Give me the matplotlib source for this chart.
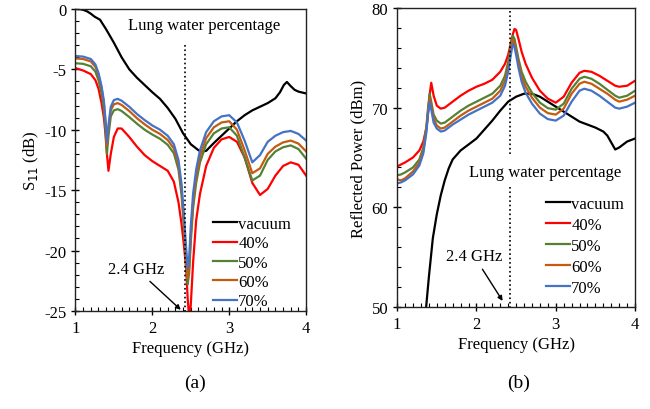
import numpy as np
import matplotlib
matplotlib.use('Agg')
import matplotlib.pyplot as plt
from matplotlib.ticker import MultipleLocator

plt.rcParams['font.family'] = ['Liberation Serif', 'DejaVu Serif']
plt.rcParams['font.size'] = 12
plt.rcParams['axes.unicode_minus'] = False

# --------------------------------------------------
# data
# --------------------------------------------------
labels = ['vacuum', '40%', '50%', '60%', '70%']
colors = ['#000000', '#ff0000', '#548235', '#c55a11', '#4472c4']

# (a) S11, vacuum
f_vac_a = [1.0, 1.05, 1.1, 1.15, 1.2, 1.25, 1.32, 1.4, 1.5, 1.6, 1.7, 1.8, 1.9, 2.0, 2.1, 2.2,
           2.3, 2.4, 2.5, 2.6, 2.65, 2.7, 2.8, 2.9, 3.0, 3.1, 3.2, 3.3, 3.4, 3.5, 3.6, 3.66,
           3.71, 3.75, 3.8, 3.85, 3.9, 4.0]
s11_vac = [0.0, -0.02, -0.08, -0.2, -0.4, -0.65, -0.9, -1.7, -2.8, -4.0, -5.0, -5.7, -6.3, -6.9,
           -7.45, -8.2, -9.1, -10.3, -11.2, -11.7, -11.8, -11.75, -11.1, -10.5, -9.9, -9.3, -8.8,
           -8.4, -8.1, -7.8, -7.4, -6.9, -6.3, -6.05, -6.4, -6.7, -6.85, -7.0]

# (a) S11, lung water
f_a = [1.0, 1.1, 1.2, 1.26, 1.3, 1.34, 1.37, 1.39, 1.41, 1.43, 1.46, 1.5, 1.55, 1.6, 1.7, 1.8,
       1.9, 2.0, 2.1, 2.2, 2.28, 2.34, 2.38, 2.41, 2.44, 2.46, 2.48, 2.5, 2.53, 2.57, 2.62, 2.7,
       2.8, 2.9, 3.0, 3.1, 3.2, 3.3, 3.4, 3.5, 3.6, 3.7, 3.8, 3.9, 4.0]
s11_40 = [-4.9, -5.1, -5.4, -5.9, -6.6, -7.8, -9.0, -10.3, -12.0, -13.4, -12.0, -10.6, -9.9, -9.9,
          -10.6, -11.4, -12.1, -12.6, -13.0, -13.4, -14.3, -16.0, -17.8, -19.5, -21.5, -24.0,
          -25.6, -24.5, -21.0, -17.5, -15.3, -13.0, -11.5, -10.8, -10.6, -11.0, -12.3, -14.4,
          -15.4, -14.9, -13.8, -13.0, -12.7, -12.9, -13.8]
s11_50 = [-4.5, -4.55, -4.75, -5.2, -5.9, -7.0, -8.3, -9.8, -12.0, -10.5, -8.9, -8.4, -8.3, -8.45,
          -8.95, -9.5, -10.0, -10.4, -10.75, -11.25, -11.95, -13.3, -15.4, -18.0, -21.0, -22.8,
          -21.8, -19.3, -16.5, -14.4, -12.7, -11.2, -10.3, -9.9, -9.8, -10.5, -12.3, -14.2,
          -13.8, -12.5, -11.8, -11.45, -11.3, -11.6, -12.4]
s11_60 = [-4.1, -4.15, -4.35, -4.8, -5.5, -6.6, -7.8, -9.3, -11.3, -9.9, -8.4, -7.9, -7.8, -7.95,
          -8.45, -9.05, -9.55, -10.0, -10.35, -10.85, -11.55, -12.9, -15.0, -17.6, -20.5, -22.3,
          -21.3, -18.8, -16.0, -13.9, -12.2, -10.7, -9.8, -9.4, -9.3, -10.0, -11.7, -13.6,
          -13.2, -12.0, -11.4, -11.05, -10.9, -11.15, -11.8]
s11_70 = [-3.9, -3.95, -4.15, -4.6, -5.3, -6.4, -7.6, -9.1, -11.0, -9.6, -8.1, -7.55, -7.45, -7.6,
          -8.1, -8.7, -9.2, -9.65, -10.0, -10.5, -11.2, -12.5, -14.5, -17.0, -19.8, -21.5,
          -20.5, -18.0, -15.3, -13.3, -11.7, -10.2, -9.3, -8.9, -8.8, -9.4, -10.9, -12.7,
          -12.1, -11.0, -10.5, -10.2, -10.1, -10.35, -10.9]

# (b) reflected power, vacuum
f_vac_b = [1.36, 1.4, 1.45, 1.5, 1.55, 1.6, 1.65, 1.7, 1.8, 1.9, 2.0, 2.1, 2.2, 2.3, 2.4, 2.5,
           2.6, 2.7, 2.8, 2.9, 3.0, 3.1, 3.2, 3.3, 3.4, 3.5, 3.6, 3.65, 3.7, 3.75, 3.8, 3.9, 4.0]
p_vac = [49.5, 53.0, 56.9, 59.3, 61.2, 62.7, 63.9, 64.8, 65.7, 66.3, 66.9, 67.8, 68.7, 69.7,
         70.6, 71.1, 71.4, 71.4, 71.1, 70.6, 70.1, 69.6, 69.1, 68.6, 68.3, 68.0, 67.6, 67.2,
         66.5, 65.8, 66.0, 66.6, 66.9]

# (b) reflected power, lung water
f_b = [1.0, 1.05, 1.1, 1.2, 1.28, 1.33, 1.37, 1.39, 1.41, 1.43, 1.46, 1.5, 1.55, 1.6, 1.7, 1.8,
       1.9, 2.0, 2.1, 2.2, 2.3, 2.36, 2.4, 2.44, 2.46, 2.48, 2.5, 2.53, 2.57, 2.62, 2.7, 2.8,
       2.9, 3.0, 3.1, 3.2, 3.3, 3.36, 3.45, 3.55, 3.65, 3.75, 3.8, 3.9, 4.0]
p_40 = [64.1, 64.3, 64.5, 65.0, 65.7, 66.6, 68.0, 69.5, 71.3, 72.5, 71.2, 70.2, 69.9, 70.0, 70.6,
        71.2, 71.7, 72.1, 72.4, 72.8, 73.6, 74.4, 75.3, 76.7, 77.4, 77.9, 77.8, 76.9, 75.6, 74.4,
        73.0, 71.7, 70.9, 70.5, 71.1, 72.5, 73.5, 73.7, 73.6, 73.2, 72.7, 72.2, 72.1, 72.2, 72.7]
p_50 = [63.2, 63.3, 63.5, 64.0, 64.8, 66.0, 68.2, 70.0, 71.4, 70.6, 69.3, 68.7, 68.4, 68.5, 69.1,
        69.7, 70.2, 70.6, 71.0, 71.4, 72.2, 73.2, 74.6, 76.5, 77.2, 76.9, 76.1, 74.9, 73.6, 72.6,
        71.5, 70.5, 69.95, 69.8, 70.4, 71.9, 72.9, 73.1, 72.9, 72.4, 71.8, 71.2, 71.0, 71.2, 71.7]
p_60 = [62.8, 62.7, 62.9, 63.6, 64.5, 65.7, 67.9, 69.7, 71.0, 70.2, 68.9, 68.2, 67.9, 68.0, 68.6,
        69.2, 69.7, 70.1, 70.5, 70.9, 71.7, 72.7, 74.1, 76.1, 76.8, 76.5, 75.7, 74.5, 73.1, 72.1,
        71.0, 70.0, 69.45, 69.3, 69.9, 71.4, 72.4, 72.6, 72.4, 71.9, 71.4, 70.8, 70.6, 70.8, 71.2]
p_70 = [62.4, 62.5, 62.7, 63.3, 64.2, 65.4, 67.6, 69.4, 70.6, 69.8, 68.5, 67.9, 67.6, 67.7, 68.3,
        68.8, 69.3, 69.7, 70.1, 70.5, 71.2, 72.2, 73.6, 75.6, 76.4, 76.1, 75.3, 74.0, 72.6, 71.5,
        70.4, 69.4, 68.85, 68.7, 69.2, 70.6, 71.7, 71.9, 71.7, 71.2, 70.6, 70.0, 69.9, 70.1, 70.5]

# --------------------------------------------------
# figure
# --------------------------------------------------
fig = plt.figure(figsize=(6.5, 4.1), dpi=100)
ax1 = fig.add_axes([0.116, 0.239, 0.355, 0.737])
ax2 = fig.add_axes([0.611, 0.249, 0.366, 0.729])


def style_axes(ax, ymin, ymax, ymaj, ymin_step):
    ax.set_xlim(1, 4)
    ax.set_ylim(ymin, ymax)
    ax.xaxis.set_major_locator(MultipleLocator(1))
    ax.xaxis.set_minor_locator(MultipleLocator(0.1))
    ax.yaxis.set_major_locator(MultipleLocator(ymaj))
    ax.yaxis.set_minor_locator(MultipleLocator(ymin_step))
    ax.tick_params(which='major', direction='inout', length=6, width=1, labelsize=12)
    ax.tick_params(which='minor', direction='in', length=3, width=0.8)
    for s in ax.spines.values():
        s.set_linewidth(1.0)
        s.set_color('#222222')
    ax.set_xlabel('Frequency (GHz)', fontsize=12, labelpad=3)


# (a)
ax1.plot(f_vac_a, s11_vac, color=colors[0], lw=1.6, label=labels[0])
for y, c, l in zip([s11_40, s11_50, s11_60, s11_70], colors[1:], labels[1:]):
    ax1.plot(f_a, y, color=c, lw=1.6, label=l)
ax1.plot([2.42, 2.42], [-3.0, -25], ls=':', color='k', lw=1.2)
style_axes(ax1, -25, 0, 5, 1)
ax1.set_ylabel('S$_{11}$ (dB)', fontsize=12, labelpad=2)
ax1.text(2.68, -1.35, 'Lung water percentage', ha='center', va='center', fontsize=12)
ax1.annotate('2.4 GHz', xy=(2.37, -24.9), xytext=(1.79, -21.5), ha='center', va='center',
             fontsize=12, arrowprops=dict(arrowstyle='-|>', color='k', lw=1, mutation_scale=7,
                                          shrinkA=2, shrinkB=0))
ax1.legend(loc='lower left', bbox_to_anchor=(0.59, 0.0), frameon=False, fontsize=12,
           handlelength=1.45, handletextpad=0.05, labelspacing=0.2, borderpad=0.1,
           borderaxespad=0)

# (b)
ax2.plot(f_vac_b, p_vac, color=colors[0], lw=1.6, label=labels[0])
for y, c, l in zip([p_40, p_50, p_60, p_70], colors[1:], labels[1:]):
    ax2.plot(f_b, y, color=c, lw=1.6, label=l)
ax2.plot([2.42, 2.42], [79.7, 65.2], ls=':', color='k', lw=1.2)
ax2.plot([2.42, 2.42], [62.0, 50], ls=':', color='k', lw=1.2)
style_axes(ax2, 50, 80, 10, 2)
ax2.set_ylabel('Reflected Power (dBm)', fontsize=12, labelpad=4)
ax2.text(2.87, 63.55, 'Lung water percentage', ha='center', va='center', fontsize=12)
ax2.annotate('2.4 GHz', xy=(2.33, 50.6), xytext=(1.97, 55.1), ha='center', va='center',
             fontsize=12, arrowprops=dict(arrowstyle='-|>', color='k', lw=1, mutation_scale=7,
                                          shrinkA=2, shrinkB=0))
ax2.legend(loc='lower left', bbox_to_anchor=(0.62, 0.03), frameon=False, fontsize=12,
           handlelength=1.45, handletextpad=0.05, labelspacing=0.3, borderpad=0.1,
           borderaxespad=0)

fig.text(0.300, 0.066, '(a)', ha='center', va='center', fontsize=14)
fig.text(0.798, 0.066, '(b)', ha='center', va='center', fontsize=14)

fig.savefig('out.png', dpi=100)
